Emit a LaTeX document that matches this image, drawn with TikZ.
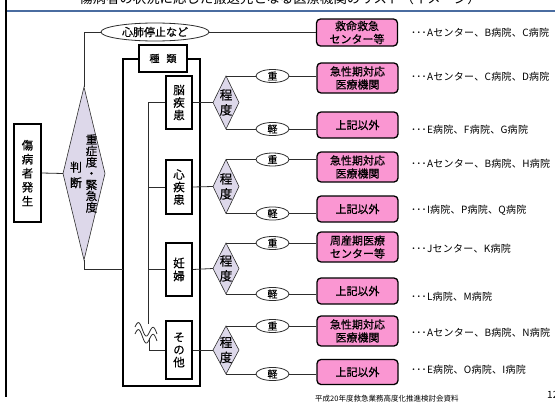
\documentclass[tikz,border=0pt]{standalone}
\usepackage{fontspec}
\setmainfont{Noto Sans CJK JP}
\newfontfamily\jpsemi{Noto Sans CJK JP}[FakeBold=0.6]
\newfontfamily\jpwide{Noto Sans CJK JP}[LetterSpace=2.7]
\usetikzlibrary{shapes.geometric}
\definecolor{pinkfill}{RGB}{250,150,210}
\definecolor{lavfill}{RGB}{221,216,234}
\definecolor{titleblue}{RGB}{74,108,160}
\definecolor{linegray}{RGB}{45,45,45}
\begin{document}
\begin{tikzpicture}[x=1pt,y=-1pt,
  conn/.style={draw=linegray, line width=0.8pt},
  blackbox/.style={draw=black, line width=1.6pt, fill=white, inner sep=0pt, align=center},
  pinkbox/.style={draw=black, line width=1.3pt, fill=pinkfill, rounded corners=4pt, minimum width=81pt, inner sep=0pt, align=center, font=\jpsemi\fontsize{11}{13}\selectfont},
  grade/.style={ellipse, draw=linegray, line width=0.8pt, fill=white, minimum width=33pt, minimum height=13pt, inner sep=0pt, font=\jpsemi\fontsize{10}{10}\selectfont},
  lav/.style={diamond, draw=linegray, line width=0.6pt, fill=lavfill, inner sep=0pt, outer sep=0pt},
  vtext/.style={align=center, inner sep=0pt},
  catbox/.style={blackbox, minimum width=26pt, font=\jpsemi\fontsize{11.5}{12.5}\selectfont},
  hosp/.style={anchor=west, inner sep=0pt, font=\jpwide\fontsize{10}{10}\selectfont},
]
\useasboundingbox (0,0) rectangle (555,402);

% header / frame lines
\node[inner sep=0pt, font=\fontsize{13.4}{14}\selectfont] (title) at (280,-1.5) {傷病者の状況に応じた搬送先となる医療機関のリスト（イメージ）};
\draw[titleblue, line width=1.8pt] (7,11) -- (555,11);
\draw[black, line width=2.3pt] (6,0) -- (6,397);

% left part
\node[blackbox, minimum width=27pt, minimum height=98pt, font=\jpsemi\fontsize{11.5}{14}\selectfont] (victim) at (27.5,173) {傷\\病\\者\\発\\生};
\node[lav, minimum width=42pt, minimum height=173pt] (bigd) at (84,173.5) {};
\node[vtext, font=\jpsemi\fontsize{11.5}{11.3}\selectfont] (bigt1) at (91.5,173.5) {重\\症\\度\\・\\緊\\急\\度};
\node[vtext, font=\jpsemi\fontsize{12}{15.5}\selectfont] (bigt2) at (76,175) {判\\断};

\node[ellipse, draw=linegray, line width=0.8pt, fill=white, minimum width=108pt, minimum height=18pt, inner sep=0pt, font=\jpsemi\fontsize{11}{11}\selectfont] (cpa) at (155,32) {心肺停止など};
\node[pinkbox, minimum height=27pt] (top) at (357,32.5) {救命救急\\センター等};
\node[hosp] (r0) at (411,33) {･･･Aセンター、B病院、C病院};

\draw[conn] (victim.east) -- (bigd.west);
\draw[conn] (bigd.north) |- (cpa.west);
\draw[conn] (cpa.east) -- (cpa.east -| top.west);

% frame of categories
\node[draw=black, line width=1.7pt, minimum width=77pt, minimum height=327pt, inner sep=0pt] (frame) at (161.5,222.5) {};
\node[blackbox, minimum width=48pt, minimum height=27pt, font=\jpsemi\fontsize{10}{10}\selectfont] (kind) at (163,58.5) {種\hspace{0.7em}類};
\coordinate (fj) at (123,269);
\draw[conn] (bigd.south) |- (fj);

% categories
\node[catbox, minimum height=53pt] (c1) at (179,102.5) {脳\\疾\\患};
\node[catbox, minimum height=54pt] (c2) at (179,187) {心\\疾\\患};
\node[catbox, minimum height=53pt, font=\jpsemi\fontsize{11.5}{13}\selectfont] (c3) at (179,269.5) {妊\\婦};
\node[catbox, minimum height=58pt] (c4) at (179,350) {そ\\の\\他};

\coordinate (wtop) at (148,324);
\coordinate (wbot) at (149,338);
\draw[conn] (c1.west -| wtop) -- (wtop);
\draw[conn] (c1.west) -- (c1.west -| wtop);
\draw[conn] (c2.west) -- (c2.west -| wtop);
\draw[conn] (c3.west) -- (c3.west -| wtop);
\draw[conn] (wbot) |- (c4.west);
\draw[conn] plot[domain=0:1, samples=50, smooth] ({135+22*\x},{327+7*\x-5.5*sin(540*\x)});
\draw[conn] plot[domain=0:1, samples=50, smooth] ({135+22*\x},{334+7*\x-5.5*sin(540*\x)});

% severity diamonds
\node[lav, minimum width=26pt, minimum height=53pt] (d1) at (226,102.5) {};
\node[lav, minimum width=26pt, minimum height=54pt] (d2) at (226,186.5) {};
\node[lav, minimum width=26pt, minimum height=51pt] (d3) at (226,268.5) {};
\node[lav, minimum width=26pt, minimum height=48pt] (d4) at (226,350) {};
\foreach \i in {1,2,3,4}{
  \node[vtext, font=\jpsemi\fontsize{12.5}{15}\selectfont] (d\i t) at (d\i) {程\\度};
  \draw[conn] (c\i.east) -- (d\i.west);
}

% grade ellipses
\node[grade] (h1) at (272.5,76) {重};
\node[grade] (l1) at (272.5,129) {軽};
\node[grade] (h2) at (272.5,159.5) {重};
\node[grade] (l2) at (272.5,213.5) {軽};
\node[grade] (h3) at (272.5,243) {重};
\node[grade] (l3) at (272.5,294) {軽};
\node[grade] (h4) at (272.5,326) {重};
\node[grade] (l4) at (272.5,374) {軽};

% destination boxes
\node[pinkbox, minimum height=30pt] (a1) at (357.5,78) {急性期対応\\医療機関};
\node[pinkbox, minimum height=26pt] (b1) at (357.5,125) {上記以外};
\node[pinkbox, minimum height=30pt] (a2) at (357.5,167) {急性期対応\\医療機関};
\node[pinkbox, minimum height=26pt] (b2) at (357.5,209) {上記以外};
\node[pinkbox, minimum height=30pt] (a3) at (357.5,247) {周産期医療\\センター等};
\node[pinkbox, minimum height=26pt] (b3) at (357.5,291) {上記以外};
\node[pinkbox, minimum height=30pt] (a4) at (357.5,331) {急性期対応\\医療機関};
\node[pinkbox, minimum height=25pt] (b4) at (357.5,372) {上記以外};

\foreach \i in {1,2,3,4}{
  \draw[conn] (d\i.north) -- (h\i.west);
  \draw[conn] (d\i.south) -- (l\i.west);
  \draw[conn] (h\i.east) -- (h\i.east -| a\i.west);
  \draw[conn] (l\i.east) -- (l\i.east -| b\i.west);
}

% hospital lists
\node[hosp] (r1) at (411,77) {･･･Aセンター、C病院、D病院};
\node[hosp] (r2) at (411,130) {･･･E病院、F病院、G病院};
\node[hosp] (r3) at (411,164) {･･･Aセンター、B病院、H病院};
\node[hosp] (r4) at (411,210) {･･･I病院、P病院、Q病院};
\node[hosp] (r5) at (411,249) {･･･Jセンター、K病院};
\node[hosp] (r6) at (411,297) {･･･L病院、M病院};
\node[hosp] (r7) at (411,333) {･･･Aセンター、B病院、N病院};
\node[hosp] (r8) at (411,370) {･･･E病院、O病院、I病院};

% footer
\node[anchor=west, inner sep=0pt, font=\fontsize{7.5}{8}\selectfont] (src) at (315,398.5) {平成20年度救急業務高度化推進検討会資料};
\node[anchor=west, inner sep=0pt, font=\fontsize{10}{10}\selectfont] (pg) at (547,395) {12};
\end{tikzpicture}
\end{document}
